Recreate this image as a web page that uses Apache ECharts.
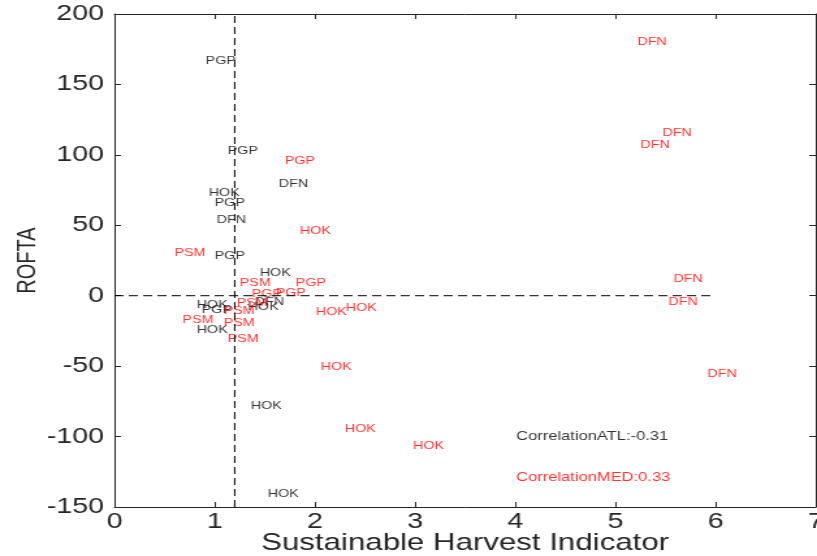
<!DOCTYPE html>
<html>
<head>
<meta charset="utf-8">
<script src="https://cdn.jsdelivr.net/npm/echarts@6/dist/echarts.min.js"></script>
<style>
html,body{margin:0;padding:0;background:#fff;}
#wrap{width:817px;height:556px;overflow:hidden;}
#c{width:628px;height:556px;transform:scaleX(1.30096);transform-origin:0 0;}
</style>
</head>
<body>
<div id="wrap"><div id="c"></div></div>
<script>
// ATL (black) labels
const atlLabels = ['PGP','PGP','DFN','HOK','PGP','DFN','PGP','HOK','DFN','HOK','HOK','PGP','HOK','HOK','HOK'];
const atlX = [0.91,1.13,1.64,0.94,1.00,1.02,1.00,1.45,1.40,1.33,0.82,0.87,0.82,1.36,1.53];
const atlY = [167,102.5,79,73,66,54,28,16,-4.5,-8,-6.5,-10,-24.6,-78,-141];

// MED (red) labels
const medLabels = ['DFN','DFN','DFN','PGP','HOK','PSM','PSM','PGP','PGP','PGP','PSM','PSM','PSM','PSM','PSM','HOK','HOK','HOK','HOK','HOK','DFN','DFN','DFN'];
const medX = [5.22,5.47,5.25,1.70,1.85,0.60,1.25,1.81,1.37,1.61,1.22,1.09,0.68,1.09,1.13,2.01,2.31,2.06,2.30,2.98,5.58,5.53,5.92];
const medY = [180,115.5,107,95.5,46,30.4,9,9,1.2,1.9,-5.2,-10.9,-17.5,-19.7,-30.4,-11.6,-8.7,-50.6,-94.6,-106.7,11.8,-4.5,-55.5];

// correlation annotations
const corrTexts = ['CorrelationATL:-0.31','CorrelationMED:0.33'];
const corrX = [4.01,4.01];
const corrY = [-99.6,-129.4];

// reference lines
const vLineX = 1.2;
const hLineXRange = [0,6];

const axisColor = '#262626';
const font = 'Liberation Sans, Arial, Helvetica, sans-serif';

const chart = echarts.init(document.getElementById('c'), null, {renderer:'canvas'});

function pts(labels, xs, ys){
  return labels.map((l,i)=>({name:l, value:[xs[i], ys[i]]}));
}

const xCommon = {
  type:'value', min:0, max:7, interval:1,
  axisLine:{show:true, onZero:false, lineStyle:{color:axisColor, width:1}},
  axisTick:{show:true, inside:true, length:5, lineStyle:{color:axisColor}},
  splitLine:{show:false}
};
const yCommon = {
  type:'value', min:-150, max:200, interval:50,
  axisLine:{show:true, onZero:false, lineStyle:{color:axisColor, width:1}},
  axisTick:{show:true, inside:true, length:5, lineStyle:{color:axisColor}},
  splitLine:{show:false}
};

const labelBase = {show:true, position:'right', distance:0, fontFamily:font, fontSize:11, formatter:p=>p.name};

chart.setOption({
  animation:false,
  backgroundColor:'#fff',
  grid:{left:88, right:1, top:14, bottom:49, containLabel:false, outerBoundsMode:'none'},
  xAxis:[
    Object.assign({}, xCommon, {
      position:'bottom',
      name:'Sustainable Harvest Indicator', nameLocation:'middle', nameGap:24, nameMoveOverlap:false,
      nameTextStyle:{fontFamily:font, fontSize:24, color:axisColor},
      axisLabel:{show:true, margin:4, fontFamily:font, fontSize:22, color:axisColor}
    }),
    Object.assign({}, xCommon, {position:'top', axisLabel:{show:false}})
  ],
  yAxis:[
    Object.assign({}, yCommon, {
      position:'left',
      name:'ROFTA', nameLocation:'middle', nameGap:57, nameRotate:90, nameMoveOverlap:false,
      nameTextStyle:{fontFamily:font, fontSize:20, color:axisColor},
      axisLabel:{show:true, margin:8, fontFamily:font, fontSize:22, color:axisColor}
    }),
    Object.assign({}, yCommon, {position:'right', axisLabel:{show:false}})
  ],
  series:[
    {
      type:'line', silent:true, symbol:'none',
      data:[[vLineX,-150],[vLineX,200]],
      lineStyle:{color:'#000', width:1, type:[7,4]}
    },
    {
      type:'line', silent:true, symbol:'none',
      data:[[hLineXRange[0],0],[hLineXRange[1],0]],
      lineStyle:{color:'#000', width:1, type:[7,4]}
    },
    {
      type:'scatter', symbolSize:0, itemStyle:{color:'rgba(0,0,0,0)'},
      data:pts(atlLabels, atlX, atlY),
      label:Object.assign({}, labelBase, {color:'#000'})
    },
    {
      type:'scatter', symbolSize:0, itemStyle:{color:'rgba(0,0,0,0)'},
      data:pts(medLabels, medX, medY),
      label:Object.assign({}, labelBase, {color:'#ff0000'})
    },
    {
      type:'scatter', symbolSize:0, itemStyle:{color:'rgba(0,0,0,0)'},
      data:corrTexts.map((t,i)=>({name:t, value:[corrX[i], corrY[i]],
        label:{color: i===0 ? '#000' : '#ff0000'}})),
      label:Object.assign({}, labelBase, {fontSize:12.7})
    }
  ]
});
</script>
</body>
</html>
